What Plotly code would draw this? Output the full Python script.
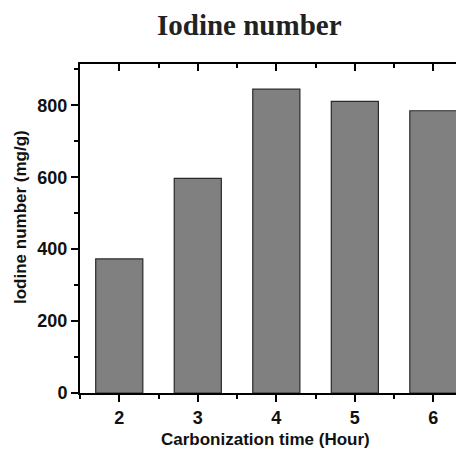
import plotly.graph_objects as go

hours = [2, 3, 4, 5, 6]
iodine = [373, 597, 845, 811, 785]
x_ticks = [2, 3, 4, 5, 6]
y_ticks = [0, 200, 400, 600, 800]

# page body has an 8px default margin; size figure to fill the rest of the window
OFF = 8
W, H = 464 - OFF, 450 - OFF
L, R, T, B = 80 - OFF, 0, 64 - OFF, 450 - 393

fig = go.Figure()
fig.add_trace(go.Bar(
    x=hours, y=iodine, width=0.6,
    marker=dict(color="#808080", line=dict(color="#2a2a2a", width=1.2)),
    showlegend=False,
))
fig.add_trace(go.Scatter(x=[2], y=[0], xaxis="x2", yaxis="y",
                         mode="markers", marker=dict(opacity=0), showlegend=False,
                         hoverinfo="skip"))

tick_font = dict(family="Arial, Liberation Sans", size=18, color="#111", weight="bold")
title_font = dict(family="Arial, Liberation Sans", size=17, color="#111")

def px_x(x):  # target window x -> paper fraction
    return (x - OFF - L) / (W - L - R)

def px_y(y):  # target window y -> paper fraction
    return ((H - B) - (y - OFF)) / (H - B - T)

fig.update_layout(
    width=W, height=H,
    margin=dict(l=L, r=R, t=T, b=B, autoexpand=False),
    plot_bgcolor="white", paper_bgcolor="white",
    xaxis=dict(
        range=[1.5, 6.39], tickvals=x_ticks, ticktext=[str(v) for v in x_ticks],
        ticks="outside", ticklen=7, tickwidth=2, tickcolor="black",
        minor=dict(tickvals=[1.5, 2.5, 3.5, 4.5, 5.5], ticks="outside", ticklen=4, tickwidth=2, tickcolor="black"),
        showline=True, linecolor="black", linewidth=2, showgrid=False, zeroline=False,
        tickfont=tick_font, automargin=False,
    ),
    xaxis2=dict(
        range=[1.5, 6.39], overlaying="x", side="top", tickvals=x_ticks, showticklabels=False,
        ticks="inside", ticklen=7, tickwidth=2, tickcolor="black",
        minor=dict(tickvals=[2.5, 3.5, 4.5, 5.5], ticks="inside", ticklen=4, tickwidth=2, tickcolor="black"),
        showline=True, linecolor="black", linewidth=2, showgrid=False, zeroline=False,
        automargin=False,
    ),
    yaxis=dict(
        range=[0, 915], tickvals=y_ticks, ticktext=[str(v) for v in y_ticks],
        ticks="outside", ticklen=7, tickwidth=2, tickcolor="black",
        minor=dict(tickvals=[100, 300, 500, 700, 900], ticks="outside", ticklen=4, tickwidth=2, tickcolor="black"),
        showline=True, linecolor="black", linewidth=2, showgrid=False, zeroline=False,
        tickfont=tick_font, automargin=False,
    ),
    annotations=[
        dict(text="<b>Iodine number</b>", xref="paper", yref="paper",
             x=px_x(249), y=px_y(25), xanchor="center", yanchor="middle",
             showarrow=False,
             font=dict(family="Liberation Serif, Times New Roman", size=29, color="#222")),
        dict(text="<b>Carbonization time (Hour)</b>", xref="paper", yref="paper",
             x=px_x(265), y=px_y(439), xanchor="center", yanchor="middle",
             showarrow=False, font=title_font),
        dict(text="<b>Iodine number (mg/g)</b>", xref="paper", yref="paper",
             x=px_x(20), y=px_y(217), xanchor="center", yanchor="middle",
             textangle=-90, showarrow=False, font=title_font),
    ],
)

fig.write_html("out.html")
